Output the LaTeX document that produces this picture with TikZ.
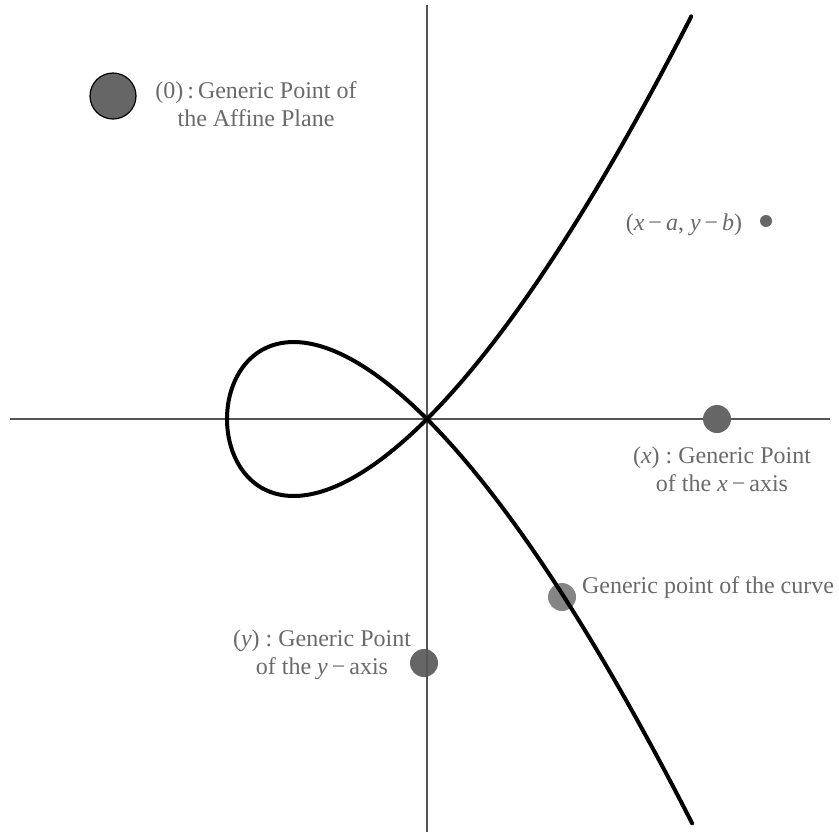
\documentclass[tikz,border=0pt]{standalone}
\usepackage{fontspec}
\setmainfont{Liberation Serif}
\definecolor{txtgray}{HTML}{6A6A6A}
\definecolor{dotgray}{HTML}{666666}
\definecolor{lightdot}{HTML}{858585}
\definecolor{axisgray}{HTML}{555555}
\begin{document}
\begin{tikzpicture}[x=0.5pt,y=-0.5pt,
  axisline/.style={draw=axisgray,line width=0.6pt},
  curveline/.style={draw=black,line width=2pt,line cap=round},
  dot/.style={circle,fill=dotgray,inner sep=0pt,minimum size=#1},
  lbl/.style={text=txtgray,align=center,inner sep=0pt,font=\fontsize{12}{13.8}\selectfont}]
\useasboundingbox (0,0) rectangle (839,836);
% generic point of the y-axis (under the axis)
\node[dot=14pt] (py) at (424,663) {};
% axes
\coordinate (xl) at (10,419);
\coordinate (xr) at (830,419);
\coordinate (yt) at (427,5);
\coordinate (yb) at (427,832);
\draw[axisline] (xl) -- (xr);
\draw[axisline] (yt) -- (yb);
% other points
\node[dot=23pt,draw=black,line width=0.6pt] (p0) at (113,96) {};
\node[dot=6pt] (pab) at (766,221) {};
\node[dot=14pt] (px) at (717,419) {};
\node[dot=14pt,fill=lightdot] (pc) at (562,597) {};
% nodal cubic y^2 = x^2 (x+1)
\draw[curveline] plot[domain=-1.525:1.525,samples=200,smooth]
  ({427+200*(\x*\x-1)},{419-200*(\x*\x*\x-\x)});
% labels
\node[lbl] (l0) at (256,104) {(0)\,:\,Generic Point of\\the Affine Plane};
\node[lbl] (lab) at (684,225) {(\textit{x}\,−\,\textit{a}, \textit{y}\,−\,\textit{b})};
\node[lbl] (lx) at (722,469) {(\textit{x})~:~Generic Point\\of the \textit{x}\,−\,axis};
\node[lbl] (lc) at (708,588) {Generic point of the curve};
\node[lbl] (ly) at (322,655) {(\textit{y})~:~Generic Point\\of the \textit{y}\,−\,axis};
\end{tikzpicture}
\end{document}
